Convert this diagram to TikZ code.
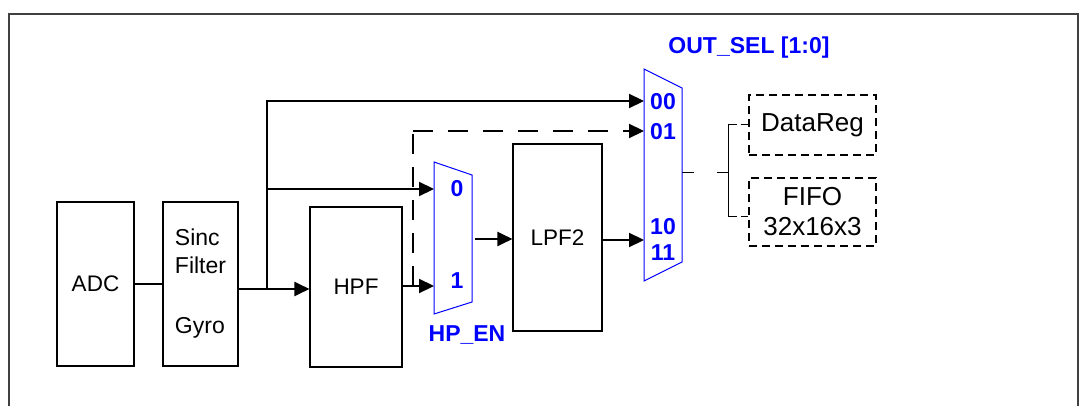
\documentclass[tikz,border=0pt]{standalone}
\usepackage{fontspec}
\setmainfont{Liberation Sans}
\usetikzlibrary{positioning,arrows.meta}

\begin{document}
\begin{tikzpicture}[x=1pt, y=-1pt,
  box/.style={draw, line width=1.1pt, inner sep=0pt, align=center, font=\fontsize{22.5}{28}\selectfont},
  dbox/.style={box, line width=1.6pt, dash pattern=on 8pt off 5pt, font=\fontsize{26}{30}\selectfont},
  sel/.style={text=blue, inner sep=0pt, font=\fontsize{23}{24}\selectfont\bfseries},
  mux/.style={draw=blue, line width=1pt},
  wire/.style={line width=2pt},
  arr/.style={-{Triangle[length=15pt,width=14pt]}, line width=2.2pt},
  dline/.style={line width=1.1pt, dash pattern=on 20pt off 13pt},
  darr/.style={arr, dash pattern=on 20pt off 15pt},
  tap/.style={line width=0.9pt, dash pattern=on 9pt off 4pt}]
\useasboundingbox (0,0) rectangle (1084,406);
% outer frame (bottom edge cut off)
\draw[black!75, line width=1.4pt] (9,406) -- (9,14) -- (1078,14) -- (1078,406);

% blocks
\node[box, minimum width=77pt, minimum height=164pt] (adc) at (95.5,284) {ADC};
\node[box, minimum width=75pt, minimum height=164pt, align=left, font=\fontsize{23}{28}\selectfont] (sinc) at (200.5,284) {Sinc\\Filter\\[32pt]Gyro};
\node[box, minimum width=92pt, minimum height=160pt] (hpf) at (356,287) {HPF};
\node[box, minimum width=89pt, minimum height=187pt] (lpf) at (557.5,237.5) {LPF2};
\node[dbox, minimum width=127pt, minimum height=60pt] (reg) at (812.5,125) {DataReg};
\node[dbox, minimum width=127pt, minimum height=68pt] (fifo) at (812.5,212) {FIFO\\32x16x3};

% multiplexers
\draw[mux] (434,162) -- (472,175) -- (472,302) -- (434,314) -- cycle;
\draw[mux] (644,69) -- (682,88) -- (682,262) -- (644,281) -- cycle;
\node[sel] (in0) at (457,189) {0};
\node[sel] (in1) at (457,281) {1};
\node[sel] (in00) at (663,102) {00};
\node[sel] (in01) at (663,132) {01};
\node[sel] (in10) at (663,227) {10};
\node[sel] (in11) at (663,253) {11};
\node[sel] (hpen) at (467,335) {HP\_EN};
\node[sel] (outsel) at (749,48) {OUT\_SEL [1:0]};

\coordinate (split) at (267,289);
\coordinate (hptap) at (413,286);
\coordinate (m1a) at (434,189);
\coordinate (m1b) at (434,286);
\coordinate (m1o) at (475,239);
\coordinate (m2a) at (644,101);
\coordinate (m2b) at (644,131);
\coordinate (m2c) at (644,240);
\coordinate (m2o) at (682,172);
\coordinate (fork) at (728,172);
\coordinate (fa) at (728,124);
\coordinate (fb) at (728,216);

% connections
\draw[wire] (adc) -- (sinc);
\draw[arr] (sinc.east |- split) -- (hpf.west |- split);
\draw[arr] (split) |- (m2a);
\draw[arr] (split |- m1a) -- (m1a);
\draw[arr] (hpf.east |- m1b) -- (m1b);
\draw[dline] (hptap) -- (hptap |- m2b);
\draw[darr] (hptap |- m2b) -- (m2b);
\draw[arr] (m1o) -- (lpf.west |- m1o);
\draw[arr] (lpf.east |- m2c) -- (m2c);
\draw[line width=0.9pt, dash pattern=on 12pt off 23pt] (m2o) -- (fork);
\draw[line width=0.9pt] (fa) -- (fb);
\draw[tap] (fa) -- (reg.west |- fa);
\draw[tap] (fb) -- (fifo.west |- fb);
\end{tikzpicture}
\end{document}
